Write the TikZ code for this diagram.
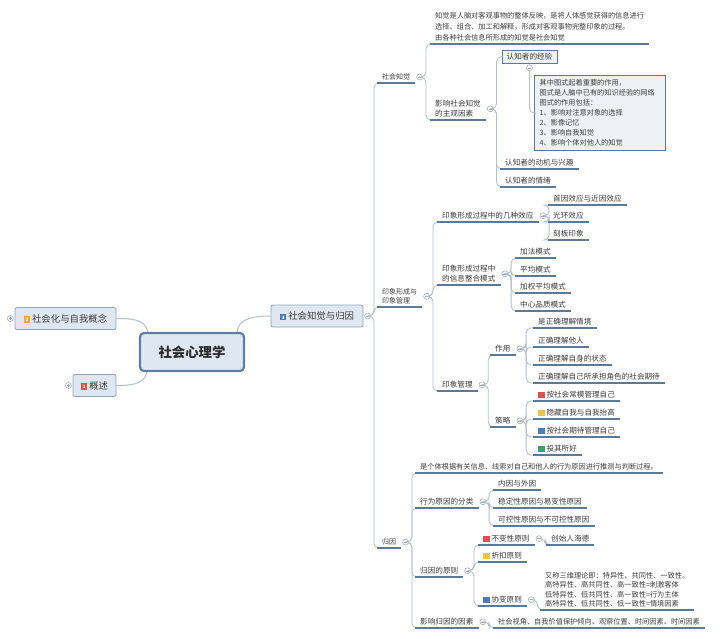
\documentclass[tikz,border=0pt]{standalone}
\usepackage{fontspec}
\newfontfamily\cjk{Noto Sans CJK SC}
\usetikzlibrary{positioning}

\definecolor{txt}{HTML}{3C3C3C}
\definecolor{uline}{HTML}{5A7A9C}
\definecolor{link}{HTML}{B3BFCC}
\definecolor{foldc}{HTML}{98A4B0}
\definecolor{boxfill}{HTML}{DFE8F2}
\definecolor{boxline}{HTML}{8EA6C0}
\definecolor{notefill}{HTML}{EEF2F6}
\definecolor{rootline}{HTML}{5D7FA4}
\definecolor{pred}{HTML}{D9534F}
\definecolor{porange}{HTML}{F0A830}
\definecolor{pblue}{HTML}{4A7EBB}
\definecolor{pyellow}{HTML}{E8C547}
\definecolor{pgreen}{HTML}{3AA55C}

\newcommand{\prio}[2]{\raisebox{-0.8pt}{\setlength{\fboxsep}{0pt}\colorbox{#1}{\makebox[6.5pt]{\rule{0pt}{6.5pt}\raisebox{1pt}{\textcolor{white}{\fontsize{4.5}{5}\selectfont\bfseries #2}}}}}\hspace{1.8pt}}

\tikzset{
  topic/.style={anchor=south west, inner xsep=5pt, inner ysep=2.5pt, text=txt, align=left,
    font=\fontsize{7.6}{10}\selectfont\cjk},
  topictwo/.style={topic, font=\fontsize{7}{9.5}\selectfont\cjk},
  para/.style={topic, font=\fontsize{7.2}{11}\selectfont\cjk},
  uline/.style={draw=uline, line width=1.3pt},
  conn/.style={draw=link, line width=0.8pt, rounded corners=5pt},
  fold/.style={circle, draw=foldc, fill=white, line width=0.5pt, inner sep=0pt, minimum size=6pt,
    path picture={\draw[foldc, line width=0.5pt]
      ([xshift=-1.7pt]path picture bounding box.center) -- ([xshift=1.7pt]path picture bounding box.center);}},
  foldplus/.style={circle, draw=foldc, fill=white, line width=0.5pt, inner sep=0pt, minimum size=6pt,
    path picture={\draw[foldc, line width=0.5pt]
      ([xshift=-1.7pt]path picture bounding box.center) -- ([xshift=1.7pt]path picture bounding box.center)
      ([yshift=-1.7pt]path picture bounding box.center) -- ([yshift=1.7pt]path picture bounding box.center);}},
  mainbox/.style={draw=boxline, fill=boxfill, rounded corners=2pt, line width=0.8pt, text=txt,
    inner sep=0pt, minimum height=22pt, font=\fontsize{9.4}{11}\selectfont\cjk},
  root/.style={draw=rootline, fill=boxfill, rounded corners=4pt, line width=2.2pt, text=txt!70!black,
    minimum width=104pt, minimum height=38pt, font=\fontsize{13.4}{15}\selectfont\cjk\bfseries},
  keybox/.style={draw=uline, fill=notefill, line width=1pt, minimum width=55pt, minimum height=13pt,
    inner sep=0pt, text=txt, font=\fontsize{7.6}{9}\selectfont\cjk},
  notebox/.style={draw=uline, fill=notefill, line width=1.2pt, anchor=north west, align=left,
    inner xsep=5pt, inner ysep=4pt, text=txt, font=\fontsize{7.2}{10}\selectfont\cjk}
}

\begin{document}
\begin{tikzpicture}[x=1pt,y=-1pt]
  \fill[white] (0,0) rectangle (720,638);
  \useasboundingbox (0,0) rectangle (720,638);

  % centre and first level
  \node[root] (root) at (192,352) {社会心理学};
  \node[mainbox, minimum width=101pt] (sh) at (65.5,318.5) {\prio{porange}{2}社会化与自我概念};
  \node[mainbox, minimum width=43pt] (gs) at (94.5,385.5) {\prio{pred}{1}概述};
  \node[mainbox, minimum width=92pt] (sk) at (317,316) {\prio{pblue}{3}社会知觉与归因};
  \node[foldplus, left=1pt of sh] (sh-f) {};
  \node[foldplus, left=1pt of gs] (gs-f) {};
  \node[fold, right=1pt of sk] (sk-f) {};
  \draw[conn, line width=1pt] ([xshift=-8pt]root.north east) to[out=85,in=180] (sk.west);
  \draw[conn, line width=1pt] ([xshift=9pt]root.north west) to[out=100,in=0] (sh.east);
  \draw[conn, line width=1pt] ([xshift=8pt]root.south west) to[out=-100,in=0] (gs.east);

  % second level
  \node[topictwo] (sz) at (377,83) {社会知觉};
  \node[topictwo] (yx) at (377,307) {印象形成与\\印象管理};
  \node[topictwo] (gy) at (377,548) {归因};
  \foreach \n in {sz,yx,gy}
    \node[fold, right=1pt of \n] (\n-f) {};
  \foreach \c in {sz,yx,gy}
    \draw[conn] (sk-f.east) -- ++(3,0) |- (\c.south west);

  % social perception
  \node[para] (zjdef) at (430,44) {知觉是人脑对客观事物的整体反映，是将人体感觉获得的信息进行\\
    选择、组合、加工和解释，形成对客观事物完整印象的过程。\\由各种社会信息所形成的知觉是社会知觉};
  \node[topic] (yxs) at (430,120) {影响社会知觉\\的主观因素};
  \node[fold, right=1pt of yxs] (yxs-f) {};
  \foreach \c in {zjdef,yxs}
    \draw[conn] (sz-f.east) -- ++(3,0) |- (\c.south west);

  \node[keybox] (jy) at (529.5,56.5) {认知者的经验};
  \node[fold, below=1pt of jy] (jy-f) {};
  \node[notebox, text width=121pt, minimum height=75pt] (ts) at (534,75)
    {其中图式起着重要的作用，\\图式是人脑中已有的知识经验的网络\\图式的作用包括：\\
     1、影响对注意对象的选择\\2、影像记忆\\3、影响自我知觉\\4、影响个体对他人的知觉};
  \draw[conn] (jy-f.south) |- (ts.west);
  \node[topic] (dj) at (500,169) {认知者的动机与兴趣};
  \node[topic] (qx) at (500,187) {认知者的情绪};
  \draw[conn] (yxs-f.east) -- ++(3,0) |- (jy.west);
  \foreach \c in {dj,qx}
    \draw[conn] (yxs-f.east) -- ++(3,0) |- (\c.south west);

  % impression formation and management
  \node[topic] (xy) at (437,222) {印象形成过程中的几种效应};
  \node[topic] (zh) at (437,285) {印象形成过程中\\的信息整合模式};
  \node[topic] (gl) at (437,391) {印象管理};
  \foreach \n in {xy,zh,gl}
    \node[fold, right=1pt of \n] (\n-f) {};
  \foreach \c in {xy,zh,gl}
    \draw[conn] (yx-f.east) -- ++(3,0) |- (\c.south west);

  \node[topic] (xy1) at (548,205) {首因效应与近因效应};
  \node[topic] (xy2) at (548,222) {光环效应};
  \node[topic] (xy3) at (548,240) {刻板印象};
  \foreach \c in {xy1,xy2,xy3}
    \draw[conn] (xy-f.east) -- ++(3,0) |- (\c.south west);

  \node[topic] (zh1) at (515,258) {加法模式};
  \node[topic] (zh2) at (515,276) {平均模式};
  \node[topic] (zh3) at (515,293) {加权平均模式};
  \node[topic] (zh4) at (515,311) {中心品质模式};
  \foreach \c in {zh1,zh2,zh3,zh4}
    \draw[conn] (zh-f.east) -- ++(3,0) |- (\c.south west);

  \node[topic] (zy) at (490,355) {作用};
  \node[topic] (cl) at (490,427) {策略};
  \foreach \n in {zy,cl}
    \node[fold, right=1pt of \n] (\n-f) {};
  \foreach \c in {zy,cl}
    \draw[conn] (gl-f.east) -- ++(3,0) |- (\c.south west);

  \node[topic] (zy1) at (533,328) {是正确理解情境};
  \node[topic] (zy2) at (533,347) {正确理解他人};
  \node[topic] (zy3) at (533,365) {正确理解自身的状态};
  \node[topic] (zy4) at (533,383) {正确理解自己所承担角色的社会期待};
  \foreach \c in {zy1,zy2,zy3,zy4}
    \draw[conn] (zy-f.east) -- ++(3,0) |- (\c.south west);

  \node[topic] (cl1) at (533,401) {\prio{pred}{}按社会常模管理自己};
  \node[topic] (cl2) at (533,419) {\prio{pyellow}{}隐藏自我与自我抬高};
  \node[topic] (cl3) at (533,437) {\prio{pblue}{}按社会期待管理自己};
  \node[topic] (cl4) at (533,455) {\prio{pgreen}{}投其所好};
  \foreach \c in {cl1,cl2,cl3,cl4}
    \draw[conn] (cl-f.east) -- ++(3,0) |- (\c.south west);

  % attribution
  \node[para] (gydef) at (415,473) {是个体根据有关信息、线索对自己和他人的行为原因进行推测与判断过程。};
  \node[topic] (fl) at (415,508) {行为原因的分类};
  \node[topic] (yz) at (415,577) {归因的原则};
  \node[topic] (ys) at (415,628) {影响归因的因素};
  \foreach \n in {fl,yz,ys}
    \node[fold, right=1pt of \n] (\n-f) {};
  \foreach \c in {gydef,fl,yz,ys}
    \draw[conn] (gy-f.east) -- ++(3,0) |- (\c.south west);

  \node[topic] (fl1) at (493,490) {内因与外因};
  \node[topic] (fl2) at (493,508) {稳定性原因与易变性原因};
  \node[topic] (fl3) at (493,526) {可控性原因与不可控性原因};
  \foreach \c in {fl1,fl2,fl3}
    \draw[conn] (fl-f.east) -- ++(3,0) |- (\c.south west);

  \node[topic] (bb) at (478,545) {\prio{pred}{}不变性原则};
  \node[topic] (zk) at (478,562) {\prio{pyellow}{}折扣原则};
  \node[topic] (xb) at (478,606) {\prio{pblue}{}协变原则};
  \foreach \n in {bb,xb}
    \node[fold, right=1pt of \n] (\n-f) {};
  \foreach \c in {bb,zk,xb}
    \draw[conn] (yz-f.east) -- ++(3,0) |- (\c.south west);

  \node[topic] (hd) at (546,545) {创始人海德};
  \draw[conn] (bb-f.east) -- ++(3,0) |- (hd.south west);
  \node[para, font=\fontsize{7.2}{9.5}\selectfont\cjk] (kl) at (540,610)
    {又称三维理论即：特异性、共同性、一致性。\\高特异性、高共同性、高一致性=刺激客体\\
     低特异性、低共同性、高一致性=行为主体\\高特异性、低共同性、低一致性=情境因素};
  \draw[conn] (xb-f.east) -- ++(3,0) |- (kl.south west);

  \node[para] (ys1) at (493,628) {社会视角、自我价值保护倾向、观察位置、时间因素、时间因素};
  \draw[conn] (ys-f.east) -- ++(3,0) |- (ys1.south west);

  % underlines of the topics
  \foreach \n in {sz,yx,gy,zjdef,yxs,dj,qx,xy,zh,gl,xy1,xy2,xy3,zh1,zh2,zh3,zh4,
                  zy,cl,zy1,zy2,zy3,zy4,cl1,cl2,cl3,cl4,gydef,fl,yz,ys,fl1,fl2,fl3,
                  bb,zk,xb,hd,kl,ys1}
    \draw[uline] (\n.south west) -- (\n.south east);
\end{tikzpicture}
\end{document}
